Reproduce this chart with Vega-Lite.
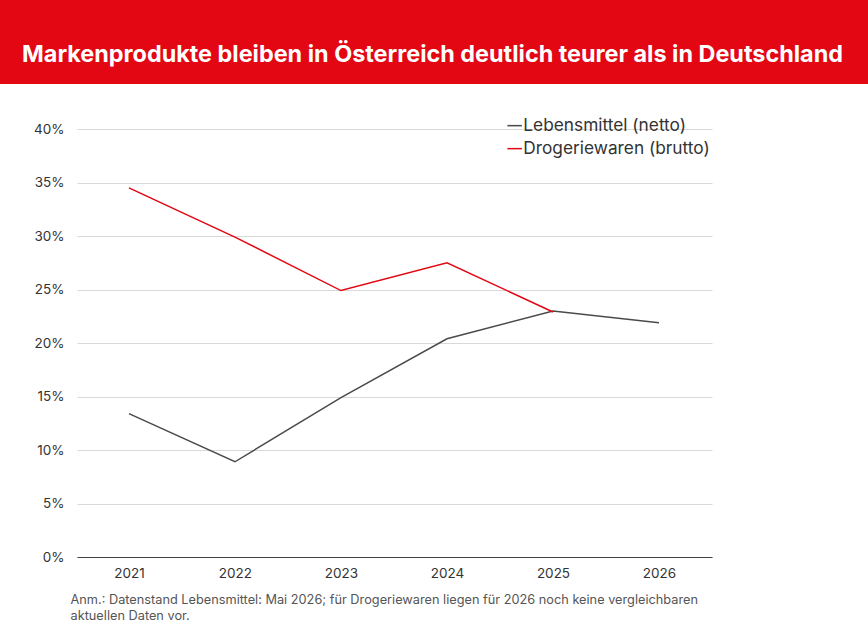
{
  "$schema": "https://vega.github.io/schema/vega-lite/v6.json",
  "autosize": {"type": "none"},
  "padding": {"left": 77, "top": 129, "right": 156, "bottom": 80},
  "width": 635,
  "height": 428,
  "background": "white",
  "config": {"font": "Inter", "view": {"stroke": null}},
  "title": {
    "text": "Markenprodukte bleiben in Österreich deutlich teurer als in Deutschland",
    "anchor": "middle",
    "frame": "group",
    "dx": 38,
    "offset": -69,
    "color": "white",
    "fontSize": 23.4,
    "fontWeight": 700,
    "limit": 860,
    "zindex": 1
  },
  "datasets": {
    "header": [{"x0": 2019.7, "x1": 2028.1, "y0": 44.21, "y1": 52.2}],
    "prices": [
      {"year": 2021, "series": "Lebensmittel (netto)", "value": 13.4},
      {"year": 2022, "series": "Lebensmittel (netto)", "value": 8.9},
      {"year": 2023, "series": "Lebensmittel (netto)", "value": 14.9},
      {"year": 2024, "series": "Lebensmittel (netto)", "value": 20.4},
      {"year": 2025, "series": "Lebensmittel (netto)", "value": 23.0},
      {"year": 2026, "series": "Lebensmittel (netto)", "value": 21.9},
      {"year": 2021, "series": "Drogeriewaren (brutto)", "value": 34.5},
      {"year": 2022, "series": "Drogeriewaren (brutto)", "value": 29.9},
      {"year": 2023, "series": "Drogeriewaren (brutto)", "value": 24.9},
      {"year": 2024, "series": "Drogeriewaren (brutto)", "value": 27.5},
      {"year": 2025, "series": "Drogeriewaren (brutto)", "value": 22.9}
    ]
  },
  "layer": [
    {
      "data": {"name": "header"},
      "mark": {"type": "rect", "color": "#e30613", "clip": false},
      "encoding": {
        "x": {"field": "x0", "type": "quantitative", "scale": {"domain": [2020.51, 2026.5], "nice": false, "zero": false}},
        "x2": {"field": "x1"},
        "y": {"field": "y0", "type": "quantitative", "scale": {"domain": [0, 40], "nice": false}},
        "y2": {"field": "y1"}
      }
    },
    {
      "data": {"name": "prices"},
      "mark": {"type": "line", "strokeWidth": 1.5},
      "encoding": {
        "x": {
          "field": "year",
          "type": "quantitative",
          "axis": {
            "values": [2021, 2022, 2023, 2024, 2025, 2026],
            "format": "d",
            "grid": false,
            "ticks": false,
            "domainColor": "#404040",
            "domainWidth": 1.2,
            "labelColor": "#333333",
            "labelFontSize": 13.5,
            "labelPadding": 9,
            "title": ["Anm.: Datenstand Lebensmittel: Mai 2026; für Drogeriewaren liegen für 2026 noch keine vergleichbaren", "aktuellen Daten vor."],
            "titleFontSize": 12.75,
            "titleFontWeight": 400,
            "titleColor": "#555555",
            "titleAlign": "left",
            "titleAnchor": "start",
            "titleBaseline": "top",
            "titleX": -7,
            "titleY": 36,
            "titleLineHeight": 16.5,
            "titleLimit": 700
          }
        },
        "y": {
          "field": "value",
          "type": "quantitative",
          "axis": {
            "values": [0, 5, 10, 15, 20, 25, 30, 35, 40],
            "labelExpr": "datum.value + '%'",
            "title": null,
            "domain": false,
            "ticks": false,
            "gridColor": "#d9d9d9",
            "labelColor": "#333333",
            "labelFontSize": 13.5,
            "labelPadding": 13
          }
        },
        "color": {
          "field": "series",
          "type": "nominal",
          "scale": {"domain": ["Lebensmittel (netto)", "Drogeriewaren (brutto)"], "range": ["#4a4a4a", "#e30613"]},
          "legend": {
            "orient": "none",
            "legendX": 429,
            "legendY": -12,
            "title": null,
            "symbolType": "stroke",
            "symbolSize": 210,
            "symbolStrokeWidth": 1.5,
            "labelFontSize": 17.3,
            "labelColor": "#333333",
            "labelLimit": 260,
            "labelOffset": 0,
            "rowPadding": 5
          }
        }
      }
    }
  ]
}
